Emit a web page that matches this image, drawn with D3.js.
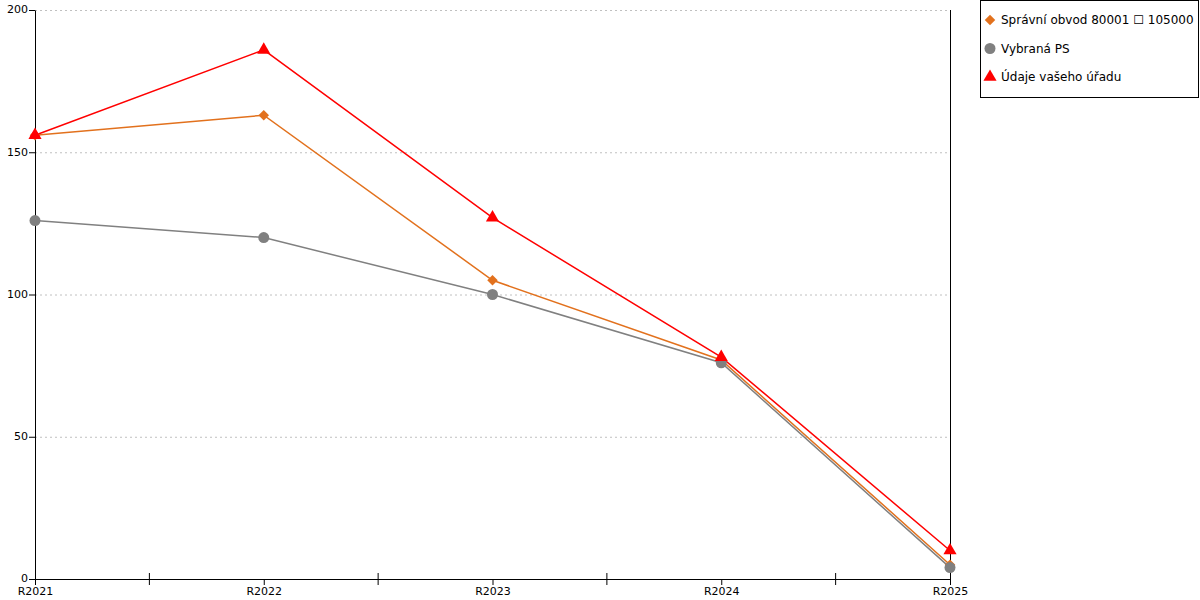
<!DOCTYPE html>
<html>
<head>
<meta charset="utf-8">
<script src="https://d3js.org/d3.v7.min.js"></script>
<style>
  body { margin: 0; background: #fff; }
  text { font-family: "DejaVu Sans", Verdana, sans-serif; }
</style>
</head>
<body>
<script>
// chart values
var years = ["R2021", "R2022", "R2023", "R2024", "R2025"];
var obvodVals = [156, 163, 105, 77, 5];
var psVals = [126, 120, 100, 76, 4];
var uradVals = [156, 186, 127, 78, 10];
var yTicks = [0, 50, 100, 150, 200];
var seriesNames = ["Správní obvod 80001 \u2610 105000", "Vybraná PS", "Údaje vašeho úřadu"];

var width = 1200, height = 600;
var margin = {top: 10, left: 35, right: 250, bottom: 21};

var svg = d3.select("body").append("svg")
  .attr("width", width)
  .attr("height", height);

var x = d3.scalePoint()
  .domain(years)
  .range([margin.left, width - margin.right]);
var y = d3.scaleLinear()
  .domain([0, 200])
  .range([height - margin.bottom, margin.top]);

// dashed grid lines
svg.append("g")
  .selectAll("line")
  .data(yTicks.slice(1))
  .enter().append("line")
  .attr("x1", margin.left)
  .attr("x2", width - margin.right)
  .attr("y1", function(d) { return y(d) + 0.5; })
  .attr("y2", function(d) { return y(d) + 0.5; })
  .attr("stroke", "#c0c0c0")
  .attr("stroke-dasharray", "2,3");

// right border line
svg.append("line")
  .attr("x1", width - margin.right + 0.5).attr("x2", width - margin.right + 0.5)
  .attr("y1", margin.top).attr("y2", height - margin.bottom)
  .attr("stroke", "#000");

// axes
var yAx = d3.axisLeft(y).tickValues(yTicks).tickSize(6).tickSizeOuter(0);
var yGroup = svg.append("g")
  .attr("transform", "translate(" + margin.left + ",0)")
  .call(yAx);
yGroup.select(".domain").attr("stroke", "#000");
yGroup.selectAll("text").attr("font-size", 11).attr("fill", "#000").attr("dx", 2).attr("dy", "0.25em");

var xAx = d3.axisBottom(x).tickSize(6).tickSizeOuter(0);
var xGroup = svg.append("g")
  .attr("transform", "translate(0," + (height - margin.bottom) + ")")
  .call(xAx);
xGroup.selectAll("text").attr("font-size", 11).attr("fill", "#000").attr("dy", "0.68em");

// in-between ticks crossing the axis
var step = x.step();
xGroup.selectAll(".mid")
  .data(years.slice(0, -1))
  .enter().append("line")
  .attr("class", "mid")
  .attr("x1", function(d) { return x(d) + step / 2; })
  .attr("x2", function(d) { return x(d) + step / 2; })
  .attr("y1", -6).attr("y2", 6)
  .attr("stroke", "#000");

var line = d3.line()
  .x(function(d, i) { return x(years[i]); })
  .y(function(d) { return y(d); });

var series = [
  {name: seriesNames[0], vals: obvodVals, color: "#e2711d", shape: d3.symbolSquare, size: 55, rot: 45},
  {name: seriesNames[1], vals: psVals, color: "#808080", shape: d3.symbolCircle, size: 95, rot: 0},
  {name: seriesNames[2], vals: uradVals, color: "#ff0000", shape: d3.symbolTriangle, size: 75, rot: 0}
];

series.forEach(function(s) {
  svg.append("path")
    .attr("d", line(s.vals))
    .attr("fill", "none")
    .attr("stroke", s.color)
    .attr("stroke-width", 1.5);
});

series.forEach(function(s) {
  svg.append("g").selectAll("path")
    .data(s.vals)
    .enter().append("path")
    .attr("d", d3.symbol().type(s.shape).size(s.size))
    .attr("transform", function(d, i) { return "translate(" + x(years[i]) + "," + y(d) + ") rotate(" + s.rot + ")"; })
    .attr("fill", s.color);
});

// legend
var legend = svg.append("g");
legend.append("rect")
  .attr("x", 980.5).attr("y", 0.5)
  .attr("width", 218).attr("height", 97)
  .attr("fill", "#fff").attr("stroke", "#000");

series.forEach(function(s, i) {
  var ly = 20 + i * 28.5;
  legend.append("path")
    .attr("d", d3.symbol().type(s.shape).size(s.size))
    .attr("transform", "translate(990," + ly + ") rotate(" + s.rot + ")")
    .attr("fill", s.color);
  legend.append("text")
    .attr("x", 1001).attr("y", ly)
    .attr("dy", "0.35em")
    .attr("font-size", 12)
    .text(s.name);
});
</script>
</body>
</html>
